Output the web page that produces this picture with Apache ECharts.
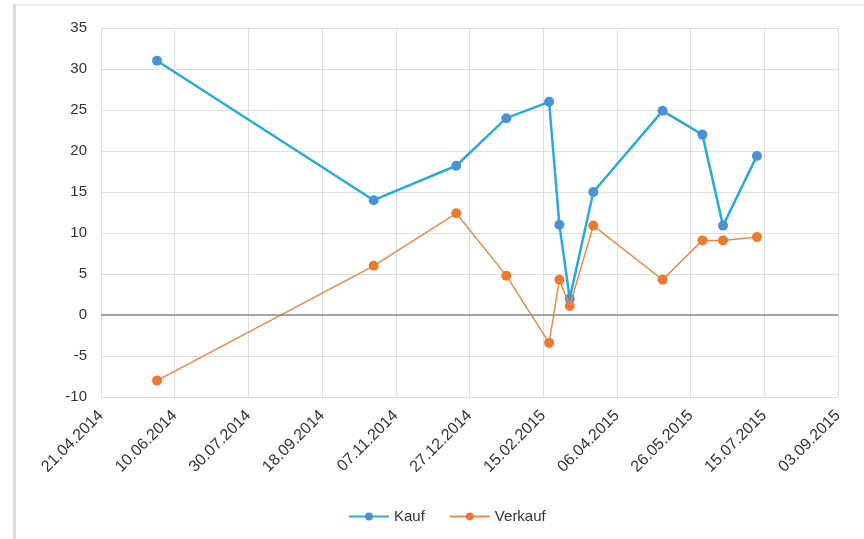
<!DOCTYPE html>
<html>
<head>
<meta charset="utf-8">
<script src="https://cdn.jsdelivr.net/npm/echarts@6/dist/echarts.min.js"></script>
<style>
  html, body { margin: 0; padding: 0; background: #fff; }
  #chart { width: 864px; height: 539px; }
</style>
</head>
<body>
<div id="chart"></div>
<script>
// dates (dd.mm.yyyy) and values
const dates = ['29.05.2014', '23.10.2014', '18.12.2014', '21.01.2015', '19.02.2015', '26.02.2015',
  '05.03.2015', '21.03.2015', '07.05.2015', '03.06.2015', '17.06.2015', '10.07.2015']
const kauf = [31, 14, 18.2, 24, 26, 11, 2, 15, 24.9, 22, 10.9, 19.4]
const verkauf = [-8, 6, 12.4, 4.8, -3.4, 4.3, 1.1, 10.9, 4.3, 9.1, 9.1, 9.5]
const startDate = '21.04.2014'
const endDate = '03.09.2015'
const dayStep = 50

const DAY = 86400000
function parseDate(s) {
  const p = s.split('.')
  return Date.UTC(+p[2], +p[1] - 1, +p[0])
}
const base = parseDate(startDate)
function toDay(s) {
  return Math.round((parseDate(s) - base) / DAY)
}
function pad(n) {
  return n < 10 ? '0' + n : '' + n
}
function fmtDay(v) {
  const d = new Date(base + v * DAY)
  return pad(d.getUTCDate()) + '.' + pad(d.getUTCMonth() + 1) + '.' + d.getUTCFullYear()
}

const font = 'Liberation Sans, Arial, sans-serif'
const chart = echarts.init(document.getElementById('chart'))

chart.setOption({
  animation: false,
  textStyle: { fontFamily: font },
  graphic: [
    { type: 'rect', shape: { x: 13, y: 4, width: 3, height: 535 }, style: { fill: '#dcdcdc' }, silent: true },
    { type: 'rect', shape: { x: 16, y: 4, width: 848, height: 2 }, style: { fill: '#eeeeee' }, silent: true }
  ],
  grid: {
    left: 101,
    right: 26,
    top: 28,
    bottom: 142,
    containLabel: false
  },
  legend: {
    bottom: 10,
    left: 343,
    itemWidth: 40,
    itemHeight: 10,
    itemGap: 24,
    textStyle: { fontSize: 15, color: '#333333', fontFamily: font },
    data: ['Kauf', 'Verkauf']
  },
  xAxis: {
    type: 'value',
    min: 0,
    max: toDay(endDate),
    interval: dayStep,
    axisLine: { show: false, onZero: false },
    axisTick: { show: false },
    splitLine: { show: true, lineStyle: { color: '#dedede', width: 1 } },
    axisLabel: {
      rotate: 45,
      margin: 16,
      fontSize: 16,
      color: '#333333',
      formatter: fmtDay
    }
  },
  yAxis: {
    type: 'value',
    min: -10,
    max: 35,
    interval: 5,
    axisLine: { show: false },
    axisTick: { show: false },
    splitLine: { lineStyle: { color: '#dedede', width: 1 } },
    axisLabel: { fontSize: 15, color: '#333333', margin: 14 }
  },
  series: [
    {
      name: 'Kauf',
      type: 'line',
      data: dates.map((d, i) => [toDay(d), kauf[i]]),
      symbol: 'circle',
      symbolSize: 10,
      lineStyle: { color: '#2aa9de', width: 2.5 },
      itemStyle: { color: '#4a92d4', borderWidth: 0 },
      markLine: {
        silent: true,
        symbol: 'none',
        label: { show: false },
        lineStyle: { color: '#8a8a8a', width: 1.5, type: 'solid' },
        data: [{ yAxis: 0 }]
      },
      z: 2
    },
    {
      name: 'Verkauf',
      type: 'line',
      data: dates.map((d, i) => [toDay(d), verkauf[i]]),
      symbol: 'circle',
      symbolSize: 10,
      lineStyle: { color: '#e8894a', width: 1.5 },
      itemStyle: { color: '#ec7b30', borderWidth: 0 },
      z: 3
    }
  ]
})
</script>
</body>
</html>
